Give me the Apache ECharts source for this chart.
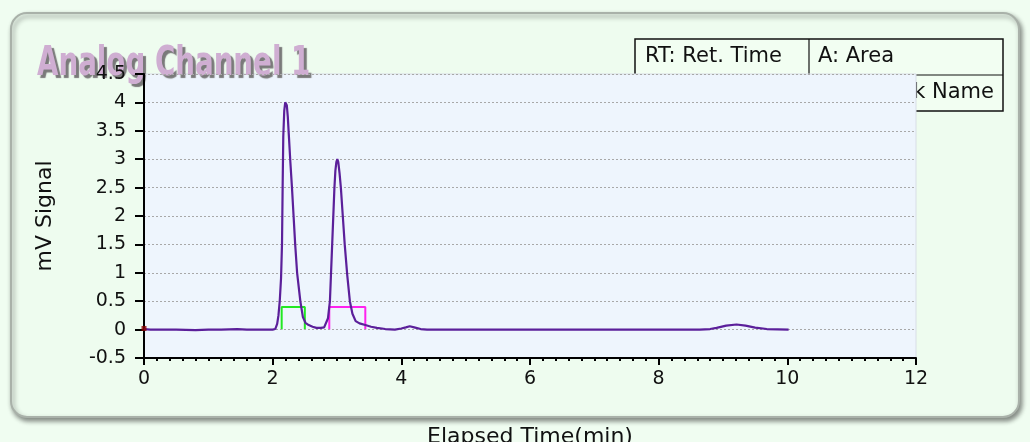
<!DOCTYPE html>
<html>
<head>
<meta charset="utf-8">
<script src="https://cdn.jsdelivr.net/npm/echarts@6/dist/echarts.min.js"></script>
<style>
html,body{margin:0;padding:0;background:#f0fdf1;}
#chart{width:1030px;height:442px;}
</style>
</head>
<body>
<div id="chart"></div>
<script>
// ---- data ----
const titleText = "Analog Channel 1";
const xAxisName = "Elapsed Time(min)";
const yAxisName = "mV Signal";
const legendCells = ["RT: Ret. Time", "A: Area", "PN: Peak Name"];

const signalTime = [0, 0.1, 0.3, 0.5, 0.8, 1.0, 1.2, 1.45, 1.6, 1.8, 2.0, 2.04, 2.07, 2.09, 2.11, 2.13, 2.145, 2.155, 2.165, 2.18, 2.195, 2.207, 2.22, 2.235, 2.25, 2.275, 2.30, 2.325, 2.35, 2.38, 2.43, 2.47, 2.51, 2.56, 2.62, 2.68, 2.75, 2.80, 2.83, 2.86, 2.89, 2.925, 2.96, 2.975, 2.99, 3.005, 3.02, 3.04, 3.06, 3.09, 3.12, 3.16, 3.20, 3.24, 3.29, 3.35, 3.44, 3.53, 3.62, 3.75, 3.9, 4.0, 4.07, 4.13, 4.2, 4.3, 4.4, 4.8, 5.5, 6.0, 6.5, 7.0, 7.5, 8.0, 8.4, 8.64, 8.8, 8.9, 9.05, 9.21, 9.35, 9.5, 9.68, 9.85, 10.02];
const signalValue = [0.01, 0.0, 0.0, 0.0, -0.01, 0.0, 0.0, 0.01, 0.0, 0.0, 0.0, 0.01, 0.1, 0.25, 0.5, 0.9, 1.5, 2.5, 3.4, 3.85, 4.0, 4.03, 3.95, 3.75, 3.45, 2.95, 2.5, 2.0, 1.5, 1.0, 0.5, 0.22, 0.12, 0.08, 0.05, 0.03, 0.03, 0.04, 0.06, 0.2, 0.5, 1.5, 2.5, 2.8, 2.95, 3.0, 2.95, 2.75, 2.5, 2.0, 1.5, 0.95, 0.5, 0.28, 0.15, 0.11, 0.08, 0.05, 0.03, 0.01, 0.0, 0.02, 0.04, 0.06, 0.04, 0.01, 0.0, 0.0, 0.0, 0.0, 0.0, 0.0, 0.0, 0.0, 0.0, 0.0, 0.01, 0.03, 0.07, 0.09, 0.07, 0.035, 0.01, 0.005, 0.0];

const peak1BoxTime = [2.14, 2.14, 2.50, 2.50];
const peak1BoxValue = [0, 0.4, 0.4, 0];
const peak2BoxTime = [2.88, 2.88, 3.44, 3.44];
const peak2BoxValue = [0, 0.4, 0.4, 0];
const startMarkTime = [0];
const startMarkValue = [0.02];

const xTicks = [0, 2, 4, 6, 8, 10, 12];
const yTicks = [-0.5, 0, 0.5, 1, 1.5, 2, 2.5, 3, 3.5, 4, 4.5];

// ---- build ----
const zip = (a, b) => a.map((v, i) => [v, b[i]]);
const chart = echarts.init(document.getElementById('chart'), null, {renderer: 'canvas'});
const tickFont = {fontFamily: 'DejaVu Sans', fontSize: 19, color: '#111'};

chart.setOption({
  animation: false,
  backgroundColor: '#f0fdf1',
  graphic: [
    {type: 'rect', z: -3, shape: {x: 11, y: 13, width: 1008, height: 404, r: 16},
     style: {fill: '#eefcef', stroke: '#a9b1a9', lineWidth: 2, shadowBlur: 5, shadowColor: 'rgba(0,0,0,0.45)', shadowOffsetX: 2, shadowOffsetY: 3}},
    {type: 'rect', z: -2, shape: {x: 635, y: 39, width: 368, height: 72},
     style: {fill: '#f2fef2', stroke: '#111', lineWidth: 1.5}},
    {type: 'line', z: -2, shape: {x1: 809, y1: 39, x2: 809, y2: 111}, style: {stroke: '#111', lineWidth: 1.2}},
    {type: 'line', z: -2, shape: {x1: 635, y1: 75, x2: 1003, y2: 75}, style: {stroke: '#111', lineWidth: 1.2}},
    {type: 'text', z: -2, style: {x: 645, y: 57, text: legendCells[0], fill: '#111', font: '21px "DejaVu Sans"', verticalAlign: 'middle'}},
    {type: 'text', z: -2, style: {x: 818, y: 57, text: legendCells[1], fill: '#111', font: '21px "DejaVu Sans"', verticalAlign: 'middle'}},
    {type: 'text', z: -2, style: {x: 994, y: 93, text: legendCells[2], fill: '#111', font: '21px "DejaVu Sans"', verticalAlign: 'middle', align: 'right'}},
    {type: 'text', z: 1, x: 37, y: 45, scaleX: 0.77, scaleY: 1,
     style: {x: 0, y: 0, text: titleText, fill: '#cfaed2', font: 'bold 40px "DejaVu Sans Condensed"', verticalAlign: 'top',
             textShadowColor: '#7a7a7a', textShadowOffsetX: 3, textShadowOffsetY: 3, textShadowBlur: 1}}
  ],
  grid: {
    left: 144, right: 114, top: 74, bottom: 84, outerBoundsMode: 'none', containLabel: false,
    show: true, backgroundColor: '#eef5fd', borderColor: '#d8dde6', borderWidth: 1, z: 0
  },
  xAxis: {
    type: 'value', min: xTicks[0], max: xTicks[xTicks.length - 1], interval: 2, z: 3,
    name: xAxisName, nameLocation: 'middle', nameGap: 68,
    nameTextStyle: {fontFamily: 'DejaVu Sans', fontSize: 22, color: '#111'},
    axisLine: {onZero: false, lineStyle: {color: '#000', width: 2}},
    axisTick: {show: true, inside: false, length: 7, lineStyle: {color: '#000', width: 2}},
    minorTick: {show: true, splitNumber: 10, length: 3, lineStyle: {color: '#000', width: 2}},
    axisLabel: Object.assign({margin: 12}, tickFont),
    splitLine: {show: false}
  },
  yAxis: {
    type: 'value', min: yTicks[0], max: yTicks[yTicks.length - 1], interval: 0.5, z: 3,
    name: yAxisName, nameLocation: 'middle', nameGap: 88, nameRotate: 90,
    nameTextStyle: {fontFamily: 'DejaVu Sans', fontSize: 22, color: '#111'},
    axisLine: {show: true, onZero: false, lineStyle: {color: '#000', width: 2}},
    axisTick: {show: true, length: 9, lineStyle: {color: '#000', width: 2}},
    axisLabel: Object.assign({margin: 18}, tickFont),
    splitLine: {show: true, lineStyle: {color: '#a8a8a8', type: [2, 2], width: 1}}
  },
  series: [
    {type: 'line', data: zip(peak1BoxTime, peak1BoxValue), symbol: 'none', z: 2,
     lineStyle: {color: '#22e822', width: 2}},
    {type: 'line', data: zip(peak2BoxTime, peak2BoxValue), symbol: 'none', z: 2,
     lineStyle: {color: '#ff22ee', width: 2}},
    {type: 'line', data: zip(signalTime, signalValue), symbol: 'none', z: 3,
     lineStyle: {color: '#5b1f9a', width: 2.2}},
    {type: 'scatter', data: zip(startMarkTime, startMarkValue), symbol: 'rect', symbolSize: 5, z: 4,
     itemStyle: {color: '#8b0000'}}
  ]
});
</script>
</body>
</html>
